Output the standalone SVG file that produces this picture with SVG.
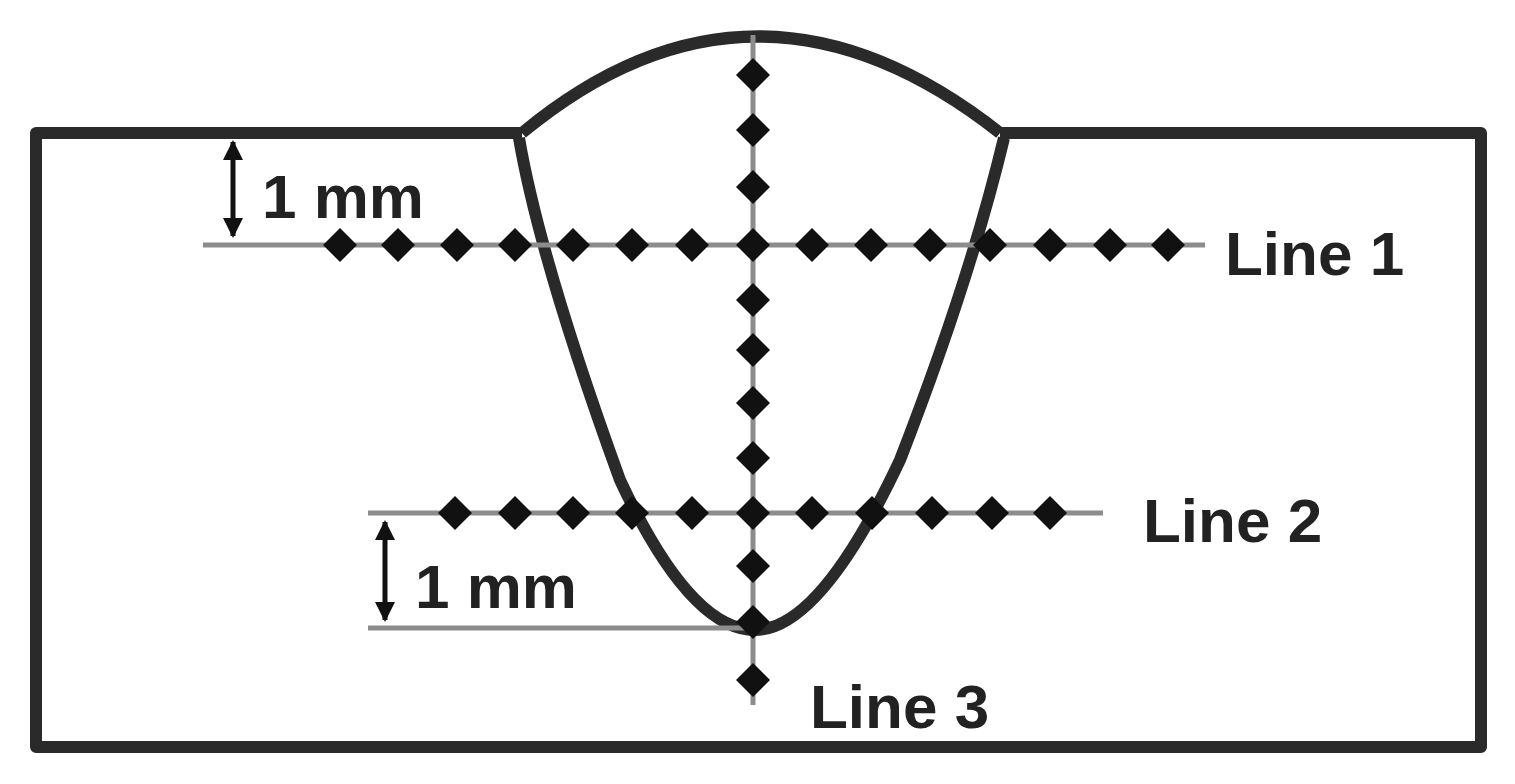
<svg xmlns="http://www.w3.org/2000/svg" width="1515" height="784" viewBox="0 0 1515 784">
<defs>
<path id="d" d="M0,-17 L17,0 L0,17 L-17,0 Z" fill="#111"/>
<marker id="ah" viewBox="0 0 10 10" refX="9" refY="5" markerWidth="4" markerHeight="4" orient="auto-start-reverse"><path d="M0,0 L10,5 L0,10 Z" fill="#111"/></marker>
<style>
.g{stroke:#8c8c8c;stroke-width:5;fill:none}
.k{stroke:#2a2a2a;stroke-width:12;fill:none;stroke-linejoin:round}
.t{font-family:"Liberation Sans",Arial,sans-serif;font-weight:bold;font-size:62px;fill:#222}
</style>
</defs>
<rect width="1515" height="784" fill="#fff"/>
<g id="plate">
<path class="k" d="M522,133 L36,133 L36,747 L1481,747 L1481,133 L1000,133"/>
</g>
<g id="weld">
<path class="k" d="M522,133 Q755,-60 1000,133"/>
<path class="k" d="M519,138 Q540,260 620,480 Q690,630 755,630 Q820,630 900,460 Q970,280 1004,138"/>
</g>
<g id="connectors">
<line class="g" x1="203" y1="245" x2="1205" y2="245"/>
<line class="g" x1="368" y1="513" x2="1103" y2="513"/>
<line class="g" x1="753" y1="35" x2="753" y2="705"/>
<line class="g" x1="368" y1="628" x2="750" y2="628"/>
<line stroke="#111" stroke-width="5" x1="233" y1="142" x2="233" y2="236" marker-start="url(#ah)" marker-end="url(#ah)"/>
<line stroke="#111" stroke-width="5" x1="385" y1="522" x2="385" y2="620" marker-start="url(#ah)" marker-end="url(#ah)"/>
</g>
<g id="line1">
<use href="#d" x="340" y="245"/><use href="#d" x="398" y="245"/><use href="#d" x="457" y="245"/><use href="#d" x="515" y="245"/><use href="#d" x="573" y="245"/><use href="#d" x="632" y="245"/><use href="#d" x="692" y="245"/><use href="#d" x="753" y="245"/><use href="#d" x="812" y="245"/><use href="#d" x="871" y="245"/><use href="#d" x="930" y="245"/><use href="#d" x="990" y="245"/><use href="#d" x="1050" y="245"/><use href="#d" x="1110" y="245"/><use href="#d" x="1168" y="245"/>
</g>
<g id="line2">
<use href="#d" x="455" y="513"/><use href="#d" x="515" y="513"/><use href="#d" x="573" y="513"/><use href="#d" x="632" y="513"/><use href="#d" x="692" y="513"/><use href="#d" x="753" y="513"/><use href="#d" x="812" y="513"/><use href="#d" x="872" y="513"/><use href="#d" x="932" y="513"/><use href="#d" x="992" y="513"/><use href="#d" x="1050" y="513"/>
</g>
<g id="line3">
<use href="#d" x="753" y="75"/><use href="#d" x="753" y="130"/><use href="#d" x="753" y="187"/><use href="#d" x="753" y="300"/><use href="#d" x="753" y="350"/><use href="#d" x="753" y="403"/><use href="#d" x="753" y="458"/><use href="#d" x="753" y="566"/><use href="#d" x="753" y="622"/><use href="#d" x="753" y="680"/>
</g>
<g id="labels">
<text class="t" x="262" y="218">1 mm</text>
<text class="t" x="415" y="608">1 mm</text>
<text class="t" x="1225" y="275">Line 1</text>
<text class="t" x="1143" y="542">Line 2</text>
<text class="t" x="810" y="728">Line 3</text>
</g>
</svg>
